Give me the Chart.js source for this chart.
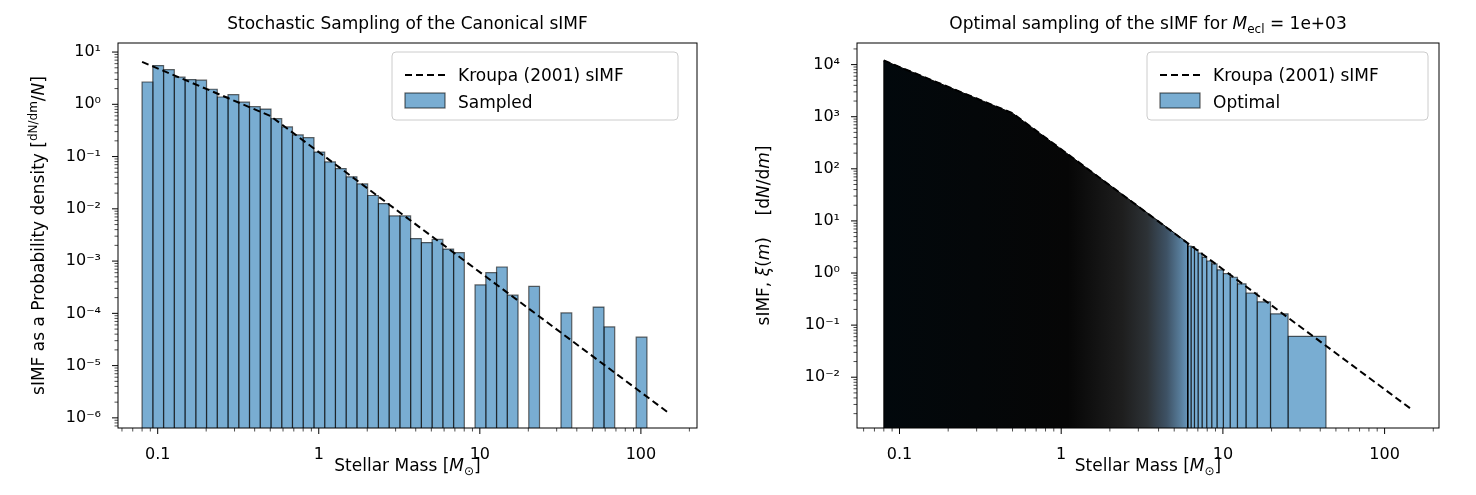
<!DOCTYPE html>
<html>
<head>
<meta charset="utf-8">
<script src="https://cdn.jsdelivr.net/npm/chart.js@4/dist/chart.umd.min.js"></script>
<style>
  body { margin: 0; background: #fff; }
  .panel { position: absolute; top: 0; width: 738px; height: 495px; }
</style>
</head>
<body>
<div class="panel" style="left:0"><canvas id="left" width="738" height="495"></canvas></div>
<div class="panel" style="left:738px"><canvas id="right" width="738" height="495"></canvas></div>
<script>
'use strict';

// ---- left panel: stochastic sampling histogram ----
var BIN_LO = 0.08;
var BIN_HI = 109;
// density per bin (null = empty bin)
var sampledDensity = [
  2.67, 5.5, 4.6, 3.3, 2.97, 2.9, 1.94, 1.38, 1.53, 1.1,
  0.9, 0.81, 0.53, 0.37, 0.26, 0.23, 0.122, 0.079, 0.059, 0.041,
  0.030, 0.018, 0.0126, 0.0073, 0.0073, 0.0027, 0.00226, 0.0026, 0.0017, 0.00145,
  null, 3.5e-4, 6.0e-4, 7.7e-4, 2.23e-4, null, 3.27e-4, null, null, 1.02e-4,
  null, null, 1.32e-4, 5.5e-5, null, null, 3.5e-5
];
var kroupaLeft = [{x: 0.08, y: 6.5}, {x: 0.5, y: 0.6}, {x: 150, y: 1.22e-6}];

// ---- right panel: optimal sampling ----
var kroupaRight = [{x: 0.08, y: 1.2e4}, {x: 0.5, y: 1.17e3}, {x: 150, y: 2.3e-3}];
// dense low-mass part (edges too close to resolve), top follows the IMF
var denseTop = [{x: 0.08, y: 1.2e4}, {x: 0.5, y: 1.17e3}, {x: 6.06, y: 3.8}];
var optimalEdges = [6.06, 6.36, 6.67, 7.03, 7.44, 7.94, 8.53, 9.2, 10.07, 11.1, 12.3, 13.9, 16.3, 19.7, 25.3, 43.4];
var optimalHeights = [3.3, 3.2, 2.8, 2.4, 2.0, 1.7, 1.5, 1.15, 0.97, 0.83, 0.62, 0.41, 0.28, 0.165, 0.061];

var FONT = 'DejaVu Sans';
var BAR_FILL = 'rgba(31,119,180,0.6)';
var BAR_EDGE = 'rgba(0,0,0,0.6)';
var BASE = 1e-9;
var SUP = {'0': '⁰', '1': '¹', '2': '²', '3': '³', '4': '⁴', '5': '⁵', '6': '⁶', '7': '⁷', '8': '⁸', '9': '⁹', '-': '⁻'};

Chart.defaults.font.family = FONT;
Chart.defaults.color = '#000';

function barSet(x0, x1, h, bg) {
  return {
    type: 'line', legendSkip: true,
    data: [{x: x0, y: BASE}, {x: x0, y: h}, {x: x1, y: h}, {x: x1, y: BASE}],
    borderColor: BAR_EDGE, borderWidth: 1.2, backgroundColor: bg || BAR_FILL,
    fill: 'start', pointRadius: 0, tension: 0
  };
}

function kroupaSet(pts) {
  return {
    type: 'line', data: pts, borderColor: '#000', borderWidth: 2,
    borderDash: [7, 4], fill: false, pointRadius: 0, tension: 0
  };
}

function logTicks(lo, hi, minorFrom, minorTo) {
  var out = [];
  for (var e = lo; e <= hi; e++) {
    for (var k = 1; k <= 9; k++) {
      var v = k * Math.pow(10, e);
      if (v < minorFrom || v > minorTo) continue;
      out.push({value: v, major: k === 1});
    }
  }
  return out;
}

function xLabel(v) {
  var e = Math.round(Math.log10(v));
  if (Math.abs(v - Math.pow(10, e)) > 1e-9 * v) return '';
  return e < 0 ? '0.1' : String(Math.pow(10, e));
}

function yLabel(v) {
  var e = Math.round(Math.log10(v));
  if (Math.abs(v - Math.pow(10, e)) > 1e-6 * v) return '';
  return '10' + String(e).split('').map(function (c) { return SUP[c]; }).join('');
}

// frame, tick marks, titles, legend
var decoPlugin = {
  id: 'deco',
  afterDraw: function (chart) {
    var ctx = chart.ctx, a = chart.chartArea, o = chart.options.plugins.deco;
    ctx.save();
    ctx.strokeStyle = '#000';
    ctx.lineWidth = 1;
    ctx.strokeRect(a.left, a.top, a.right - a.left, a.bottom - a.top);
    ['x', 'y'].forEach(function (id) {
      var s = chart.scales[id];
      s.ticks.forEach(function (t) {
        var len = t.major ? 6 : 3.5;
        ctx.lineWidth = t.major ? 1 : 0.7;
        ctx.beginPath();
        if (id === 'x') {
          var px = s.getPixelForValue(t.value);
          if (px < a.left - 0.5 || px > a.right + 0.5) return;
          ctx.moveTo(px, a.bottom); ctx.lineTo(px, a.bottom + len);
        } else {
          var py = s.getPixelForValue(t.value);
          if (py < a.top - 0.5 || py > a.bottom + 0.5) return;
          ctx.moveTo(a.left, py); ctx.lineTo(a.left - len, py);
        }
        ctx.stroke();
      });
    });

    var cx = (a.left + a.right) / 2;
    ctx.fillStyle = '#000';
    ctx.textBaseline = 'alphabetic';
    // title
    ctx.font = '17px ' + FONT;
    drawRuns(ctx, o.title, cx, 29);
    // x label
    drawRuns(ctx, [['Stellar Mass [', 'n'], ['M', 'i'], ['⊙', 'sub'], [']', 'n']], cx, 471);
    // y label
    ctx.save();
    ctx.translate(o.yLabelX, (a.top + a.bottom) / 2);
    ctx.rotate(-Math.PI / 2);
    drawRuns(ctx, o.yLabel, 0, 0);
    ctx.restore();

    // legend
    var L = o.legend;
    ctx.fillStyle = 'rgba(255,255,255,0.8)';
    ctx.strokeStyle = '#ccc';
    ctx.lineWidth = 1;
    roundRect(ctx, L.x, L.y, L.w, 68, 4);
    ctx.fill(); ctx.stroke();
    ctx.strokeStyle = '#000';
    ctx.lineWidth = 2;
    ctx.setLineDash([7, 4]);
    ctx.beginPath(); ctx.moveTo(L.x + 13, L.y + 23); ctx.lineTo(L.x + 53, L.y + 23); ctx.stroke();
    ctx.setLineDash([]);
    ctx.fillStyle = BAR_FILL;
    ctx.fillRect(L.x + 13, L.y + 41, 40, 15);
    ctx.strokeStyle = BAR_EDGE; ctx.lineWidth = 1.2;
    ctx.strokeRect(L.x + 13, L.y + 41, 40, 15);
    ctx.fillStyle = '#000';
    ctx.font = '17px ' + FONT;
    ctx.textAlign = 'left';
    ctx.fillText('Kroupa (2001) sIMF', L.x + 66, L.y + 29);
    ctx.fillText(L.second, L.x + 66, L.y + 56);
    ctx.restore();
  }
};

function roundRect(ctx, x, y, w, h, r) {
  ctx.beginPath();
  ctx.moveTo(x + r, y); ctx.lineTo(x + w - r, y); ctx.quadraticCurveTo(x + w, y, x + w, y + r);
  ctx.lineTo(x + w, y + h - r); ctx.quadraticCurveTo(x + w, y + h, x + w - r, y + h);
  ctx.lineTo(x + r, y + h); ctx.quadraticCurveTo(x, y + h, x, y + h - r);
  ctx.lineTo(x, y + r); ctx.quadraticCurveTo(x, y, x + r, y);
  ctx.closePath();
}

// text runs: n = normal, i = italic, sub = subscript, sup = superscript
function runFont(style) {
  if (style === 'i') return 'italic 17px ' + FONT;
  if (style === 'sub' || style === 'sup') return '12px ' + FONT;
  if (style === 'subi') return 'italic 12px ' + FONT;
  return '17px ' + FONT;
}
function drawRuns(ctx, runs, cx, y) {
  var total = 0;
  runs.forEach(function (r) { ctx.font = runFont(r[1]); total += ctx.measureText(r[0]).width; });
  var x = cx - total / 2;
  ctx.textAlign = 'left';
  runs.forEach(function (r) {
    ctx.font = runFont(r[1]);
    var dy = r[1] === 'sub' ? 4 : (r[1] === 'sup' ? -7 : 0);
    ctx.fillText(r[0], x, y + dy);
    x += ctx.measureText(r[0]).width;
  });
}

function makeChart(id, datasets, xr, yr, ticks, deco, pad) {
  return new Chart(document.getElementById(id), {
    type: 'line',
    data: {datasets: datasets},
    options: {
      responsive: false, animation: false, devicePixelRatio: 1,
      layout: {padding: pad},
      plugins: {legend: {display: false}, tooltip: {enabled: false}, deco: deco},
      scales: {
        x: {
          type: 'logarithmic', min: xr[0], max: xr[1],
          grid: {display: false}, border: {display: false},
          afterBuildTicks: function (s) { s.ticks = logTicks(-2, 2, 0.05, 250); },
          afterFit: function (s) { s.height = 67; },
          ticks: {autoSkip: false, maxRotation: 0, padding: 9, font: {size: 16}, callback: function (v) { return xLabel(v); }}
        },
        y: {
          type: 'logarithmic', min: yr[0], max: yr[1],
          grid: {display: false}, border: {display: false},
          afterBuildTicks: function (s) { s.ticks = logTicks(ticks[0], ticks[1], yr[0], yr[1]); },
          afterFit: function (s) { s.width = pad.yw; },
          ticks: {autoSkip: false, padding: 9, font: {size: 16}, callback: function (v) { return yLabel(v); }}
        }
      }
    },
    plugins: [decoPlugin]
  });
}

// left datasets
var leftSets = [kroupaSet(kroupaLeft)];
var nb = sampledDensity.length;
var step = (Math.log10(BIN_HI) - Math.log10(BIN_LO)) / nb;
for (var i = 0; i < nb; i++) {
  if (sampledDensity[i] === null) continue;
  leftSets.push(barSet(BIN_LO * Math.pow(10, step * i), BIN_LO * Math.pow(10, step * (i + 1)), sampledDensity[i]));
}

makeChart('left', leftSets, [0.0567, 223], [6.4e-7, 14.9], [-7, 1], {
  title: [['Stochastic Sampling of the Canonical sIMF', 'n']],
  yLabel: [['sIMF as a Probability density [', 'n'], ['dN/dm', 'sup'], ['/', 'n'], ['N', 'i'], [']', 'n']],
  yLabelX: 44,
  legend: {x: 392, y: 52, w: 286, second: 'Sampled'}
}, {top: 43, right: 41, left: 0, bottom: 0, yw: 118});

// right datasets
var denseFill = function (c) {
  var chart = c.chart, a = chart.chartArea;
  if (!a) return '#000';
  var s = chart.scales.x;
  var g = chart.ctx.createLinearGradient(s.getPixelForValue(0.08), 0, s.getPixelForValue(6.06), 0);
  var p = function (m) { return (Math.log10(m) - Math.log10(0.08)) / (Math.log10(6.06) - Math.log10(0.08)); };
  g.addColorStop(0, '#02080c');
  g.addColorStop(p(1.1), '#060606');
  g.addColorStop(p(2.4), '#1e1e1e');
  g.addColorStop(p(3.4), '#2d3236');
  g.addColorStop(p(4.5), '#3e5265');
  g.addColorStop(p(5.4), '#567a97');
  g.addColorStop(1, '#6796bb');
  return g;
};
var rightSets = [kroupaSet(kroupaRight), {
  type: 'line',
  data: [{x: 0.08, y: BASE}].concat(denseTop, [{x: 6.06, y: BASE}]),
  borderColor: '#000', borderWidth: 1, backgroundColor: denseFill,
  fill: 'start', pointRadius: 0, tension: 0
}];
for (var j = 0; j < optimalHeights.length; j++) {
  rightSets.push(barSet(optimalEdges[j], optimalEdges[j + 1], optimalHeights[j]));
}

makeChart('right', rightSets, [0.0546, 217], [1.06e-3, 2.6e4], [-3, 4], {
  title: [['Optimal sampling of the sIMF for ', 'n'], ['M', 'i'], ['ecl', 'sub'], [' = 1e+03', 'n']],
  yLabel: [['sIMF, ', 'n'], ['ξ', 'i'], ['(', 'n'], ['m', 'i'], [')    [d', 'n'], ['N', 'i'], ['/d', 'n'], ['m', 'i'], [']', 'n']],
  yLabelX: 31,
  legend: {x: 409, y: 52, w: 281, second: 'Optimal'}
}, {top: 43, right: 37, left: 0, bottom: 0, yw: 119});
</script>
</body>
</html>
